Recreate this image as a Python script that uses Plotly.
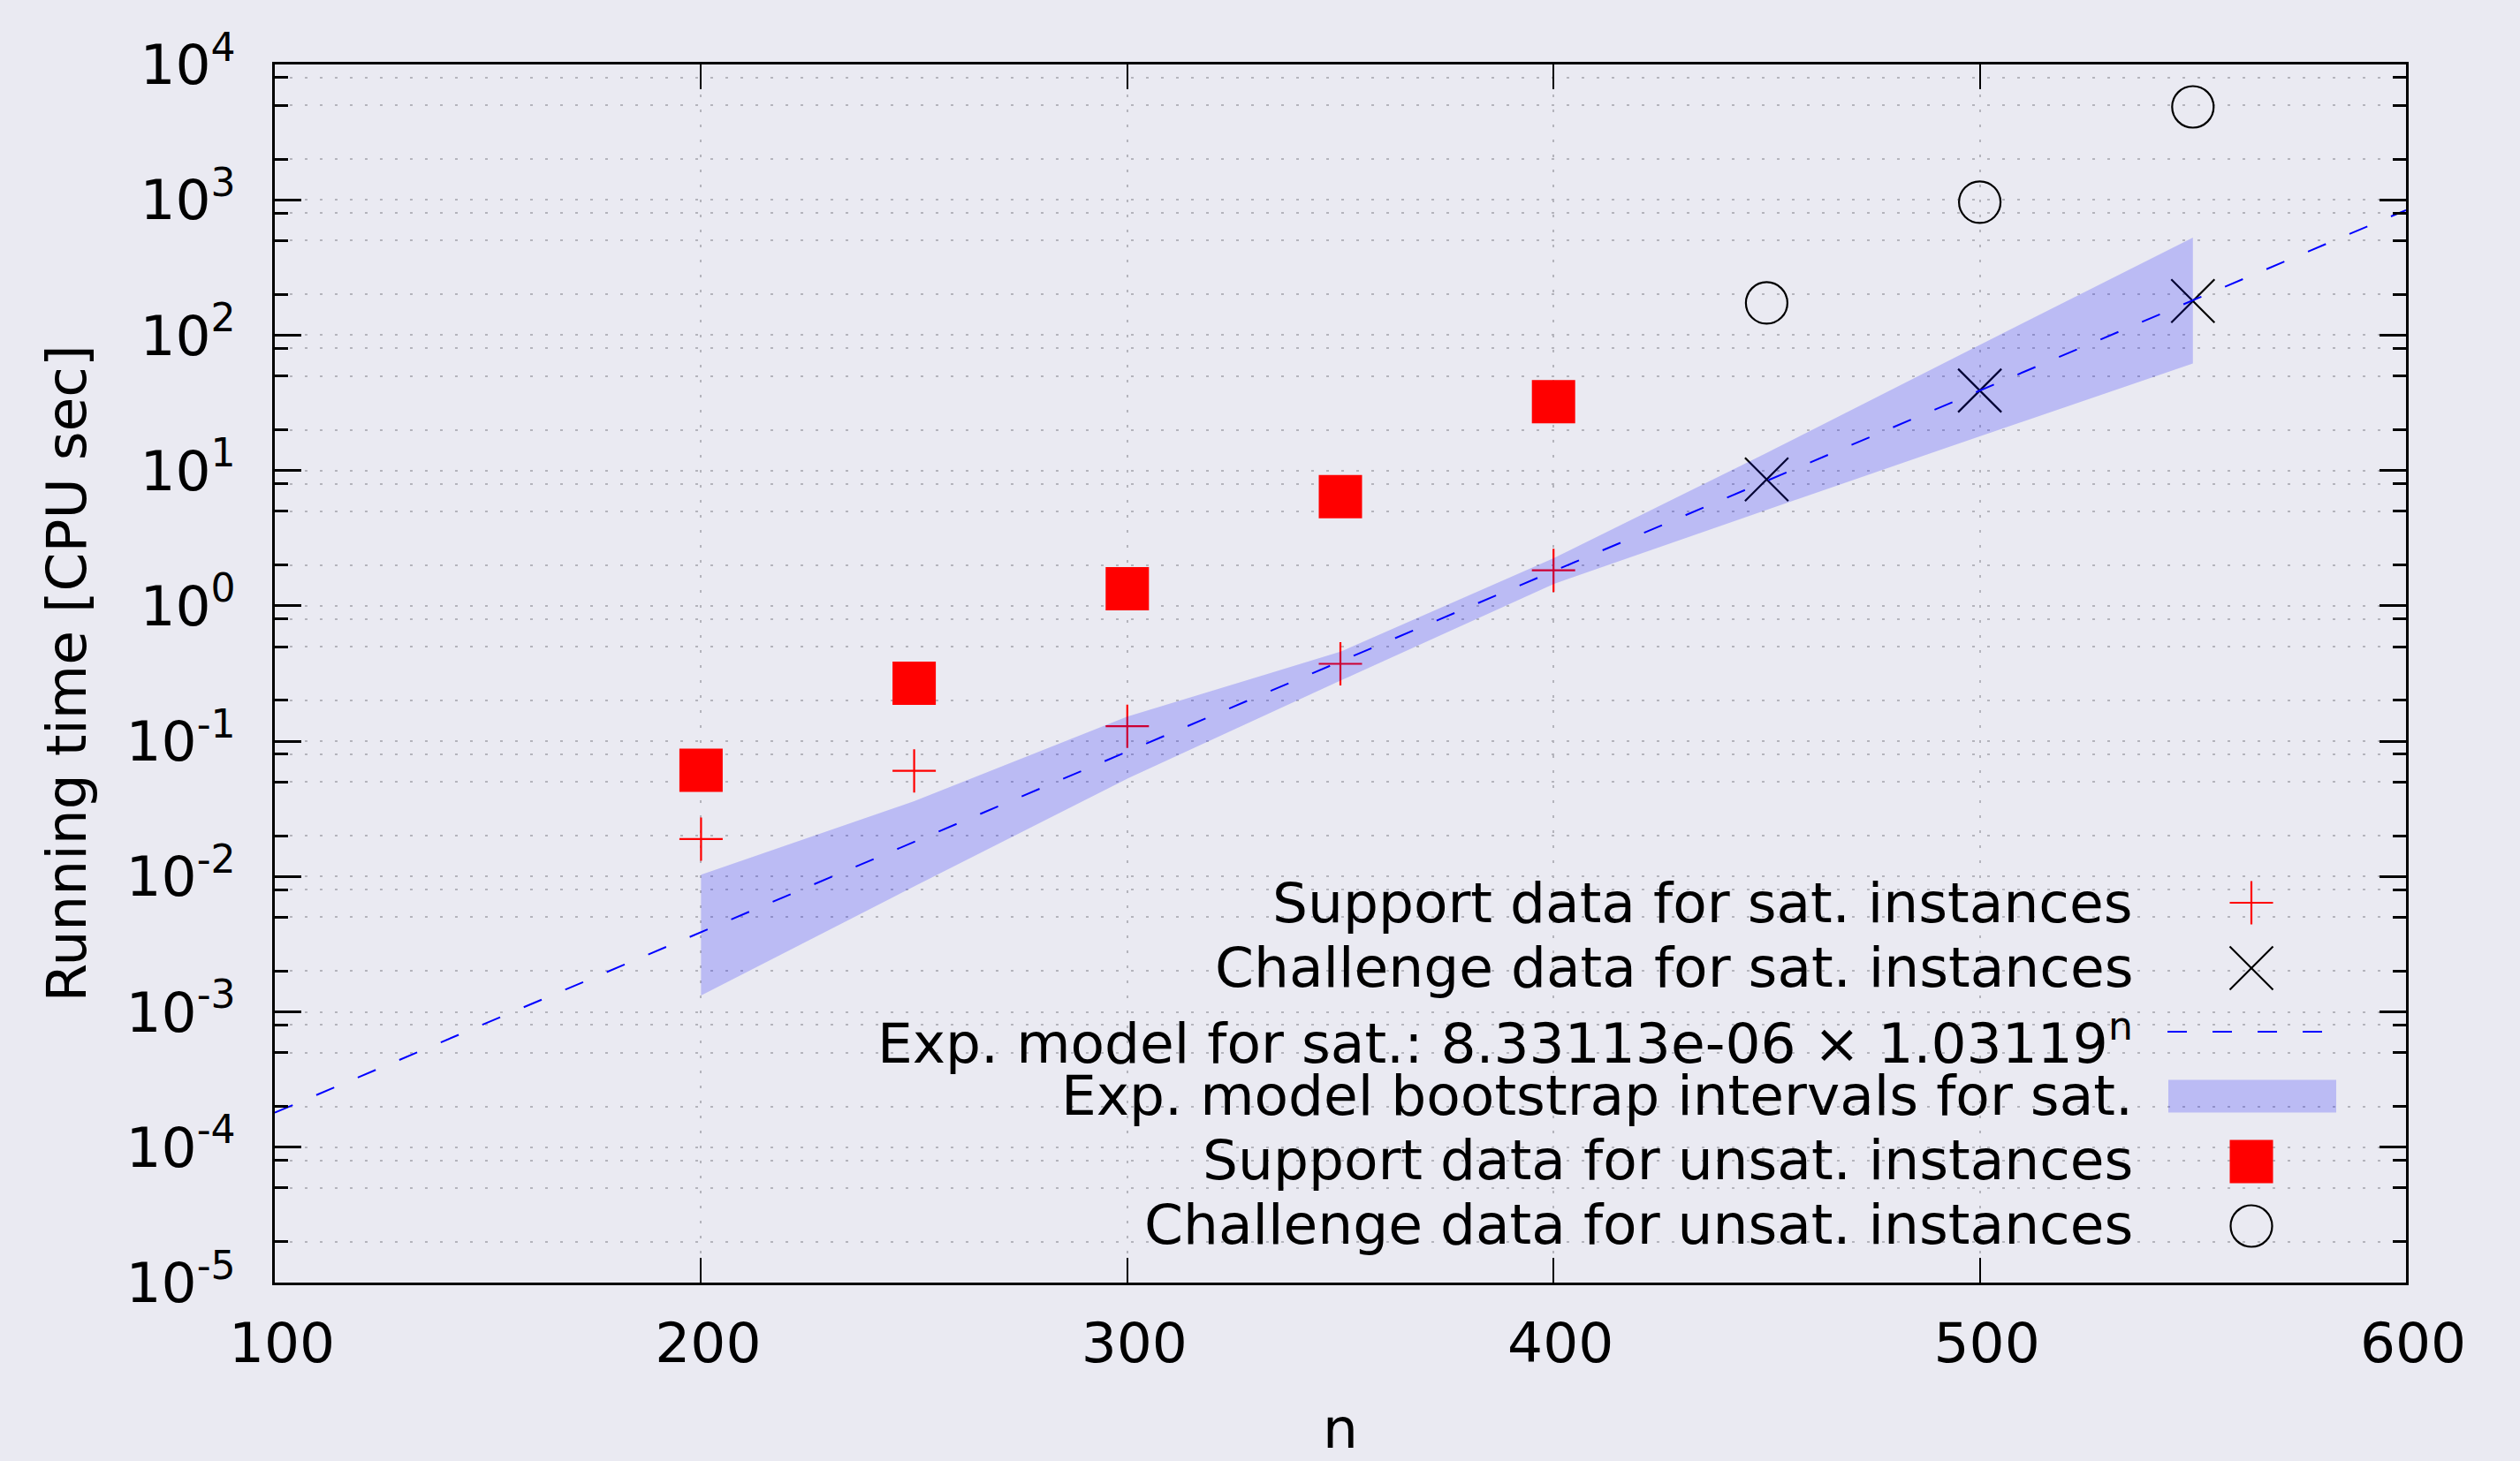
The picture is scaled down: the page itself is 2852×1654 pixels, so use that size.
import plotly.graph_objects as go

# ---------------- data ----------------
n_support = [200, 250, 300, 350, 400]
t_support_sat = [0.0189, 0.0604, 0.129, 0.373, 1.83]
t_support_unsat = [0.0611, 0.268, 1.34, 6.4, 32.2]

n_challenge = [450, 500, 550]
t_challenge_sat = [8.6, 39.0, 179]
t_challenge_unsat = [173, 961, 4860]

model_n = [100, 600]
model_t = [1.8e-4, 8.4e2]

band_n = [200, 250, 300, 350, 400, 450, 500, 550]
band_upper = [0.0103, 0.036, 0.152, 0.458, 2.25, 13.5, 84.8, 525]
band_lower = [0.00132, 0.00845, 0.0528, 0.28, 1.45, 5.12, 17.9, 61.8]

x_ticks = [100, 200, 300, 400, 500, 600]
y_exponents = [-5, -4, -3, -2, -1, 0, 1, 2, 3, 4]
y_ticks = [10.0 ** e for e in y_exponents]
y_ticktext = ["10<sup>%d</sup>" % e for e in y_exponents]
y_minor_mult = [2, 5, 8]
y_minor = [m * 10.0 ** e for e in y_exponents[:-1] for m in y_minor_mult]

key_labels = [
    "Support data for sat. instances",
    "Challenge data for sat. instances",
    "Exp. model for sat.: 8.33113e-06 × 1.03119<sup>n</sup>",
    "Exp. model bootstrap intervals for sat.",
    "Support data for unsat. instances",
    "Challenge data for unsat. instances",
]

# ---------------- styles ----------------
BG = "#eaeaf2"
GRID = "#b4b4bc"
FONT = "DejaVu Sans"
FS = 63
BAND = "rgba(0,0,255,0.2)"

fig = go.Figure()

fig.add_trace(go.Scatter(
    x=n_support, y=t_support_sat, mode="markers", name=key_labels[0],
    marker=dict(symbol="cross-thin-open", size=35, color="red",
                line=dict(color="red", width=2.2))))
fig.add_trace(go.Scatter(
    x=n_challenge, y=t_challenge_sat, mode="markers", name=key_labels[1],
    marker=dict(symbol="x-thin-open", size=49, color="black",
                line=dict(color="black", width=2.2))))
fig.add_trace(go.Scatter(
    x=model_n, y=model_t, mode="lines", name=key_labels[2],
    line=dict(color="blue", width=2, dash="22px,29px")))
fig.add_trace(go.Scatter(
    x=band_n + band_n[::-1], y=band_upper + band_lower[::-1],
    mode="lines", fill="toself", fillcolor=BAND, line=dict(width=0),
    name=key_labels[3]))
fig.add_trace(go.Scatter(
    x=n_support, y=t_support_unsat, mode="markers", name=key_labels[4],
    marker=dict(symbol="square", size=49, color="red", line=dict(width=0))))
fig.add_trace(go.Scatter(
    x=n_challenge, y=t_challenge_unsat, mode="markers", name=key_labels[5],
    marker=dict(symbol="circle-open", size=47, color="black",
                line=dict(color="black", width=2.2))))

# ---------------- key (gnuplot style, bottom right, opaque) ----------------
L, R, T, B = 311, 129, 73, 202
W, H = 2852, 1654
PW, PH = W - L - R, H - T - B

def px(xpix):
    return (xpix - L) / PW

def py(ypix):
    return (T + PH - ypix) / PH

shapes = []
# opaque key background hides grid lines only
shapes.append(dict(type="rect", xref="paper", yref="paper", layer="between",
                   x0=px(728), x1=px(2680), y0=py(1425), y1=py(985),
                   fillcolor=BG, line=dict(width=0)))

row_y = [1022, 1096, 1168, 1241, 1315, 1388]
text_y = [1022, 1095, 1177, 1240, 1313, 1386]
KX = px(2548)
half = 24.5

def pixshape(kind, row, x0, x1, y0, y1, **kw):
    d = dict(type=kind, xref="paper", yref="paper",
             xsizemode="pixel", ysizemode="pixel",
             xanchor=KX, yanchor=py(row_y[row]),
             x0=x0, x1=x1, y0=y0, y1=y1)
    d.update(kw)
    return d

red_line = dict(color="red", width=2.2)
blk_line = dict(color="black", width=2.2)
shapes.append(pixshape("line", 0, -half, half, 0, 0, line=red_line))
shapes.append(pixshape("line", 0, 0, 0, -half, half, line=red_line))
shapes.append(pixshape("line", 1, -half, half, -half, half, line=blk_line))
shapes.append(pixshape("line", 1, -half, half, half, -half, line=blk_line))
shapes.append(pixshape("line", 2, -95, 80, 0, 0,
                       line=dict(color="blue", width=2, dash="22px,29px")))
shapes.append(pixshape("rect", 3, -94, 96, -18.5, 18.5,
                       fillcolor=BAND, line=dict(width=0)))
shapes.append(pixshape("rect", 4, -half, half, -half, half,
                       fillcolor="red", line=dict(width=0)))
shapes.append(pixshape("circle", 5, -23.5, 23.5, -23.5, 23.5,
                       line=blk_line))

annotations = []
for lab, ty in zip(key_labels, text_y):
    annotations.append(dict(text=lab, xref="paper", yref="paper",
                            x=px(2416), y=py(ty), xanchor="right",
                            yanchor="middle", showarrow=False,
                            font=dict(family=FONT, size=FS, color="black")))

axis_common = dict(
    showline=True, linecolor="black", linewidth=2.5, mirror="allticks",
    ticks="inside", tickcolor="black", zeroline=False,
    showgrid=True, gridcolor=GRID, gridwidth=1.5, griddash="3px,14px",
    tickfont=dict(family=FONT, size=FS, color="black"),
)

fig.update_layout(
    width=W, height=H,
    margin=dict(l=L, r=R, t=T, b=B, autoexpand=False),
    paper_bgcolor=BG, plot_bgcolor=BG,
    font=dict(family=FONT, size=FS, color="black"),
    showlegend=False,
    shapes=shapes,
    annotations=annotations,
    xaxis=dict(axis_common, range=[100, 600], tickmode="array",
               tickvals=x_ticks, ticklen=28, tickwidth=2,
               ticklabelstandoff=12, ticklabelshift=8,
               title=dict(text="n", standoff=89,
                          font=dict(family=FONT, size=FS, color="black"))),
    yaxis=dict(axis_common, type="log", range=[-5, 4], tickmode="array",
               tickvals=y_ticks, ticktext=y_ticktext, ticklen=30, tickwidth=2.5,
               ticklabelstandoff=29,
               minor=dict(tickmode="array", tickvals=y_minor, ticks="inside",
                          ticklen=15, tickwidth=2.5, tickcolor="black",
                          showgrid=True, gridcolor=GRID, gridwidth=1.5,
                          griddash="3px,14px"),
               title=dict(text="Running time [CPU sec]", standoff=25,
                          font=dict(family=FONT, size=FS, color="black"))),
)

fig.write_html(
    "out.html",
    config={"displayModeBar": False},
    post_script=("document.body.style.margin='0';"
                 "document.body.style.overflow='hidden';"
                 "document.body.style.background='%s';" % BG),
)
